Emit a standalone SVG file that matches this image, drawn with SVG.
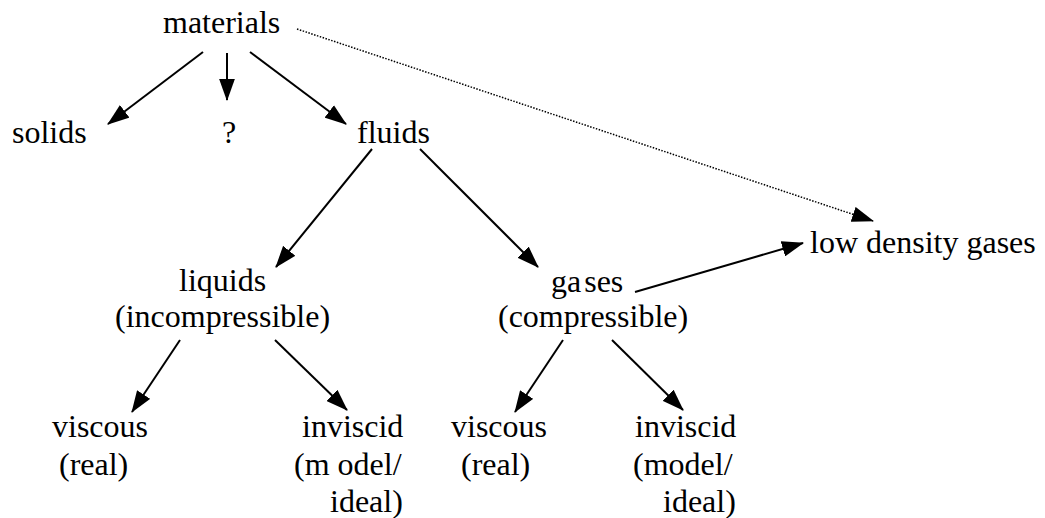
<svg xmlns="http://www.w3.org/2000/svg" width="1045" height="518" viewBox="0 0 1045 518">
<style>
.t text{font-family:'Liberation Serif','Times New Roman',Times,'DejaVu Serif',serif;font-size:32px;fill:#000}
.c{stroke:#000;stroke-width:2;fill:none}
.d{stroke:#000;stroke-width:1.5;fill:none;stroke-dasharray:1.5 1.5}
</style>
<defs>
<marker id="ah" markerUnits="userSpaceOnUse" markerWidth="22" markerHeight="16" refX="20" refY="7.5" orient="auto" viewBox="0 0 21 15">
<path d="M0,0 L21,7.5 L0,15 Z" fill="#000"/>
</marker>
</defs>
<rect width="1045" height="518" fill="#fff"/>
<g id="connectors">
<line class="c" x1="203" y1="52" x2="108" y2="124" marker-end="url(#ah)"/>
<line class="c" x1="227" y1="53" x2="227" y2="100" marker-end="url(#ah)"/>
<line class="c" x1="250" y1="52" x2="346" y2="124" marker-end="url(#ah)"/>
<line class="d" x1="297" y1="29" x2="873" y2="221" marker-end="url(#ah)"/>
<line class="c" x1="372" y1="149" x2="276" y2="267" marker-end="url(#ah)"/>
<line class="c" x1="420" y1="149" x2="538" y2="267" marker-end="url(#ah)"/>
<line class="c" x1="635" y1="292" x2="803" y2="243" marker-end="url(#ah)"/>
<line class="c" x1="180" y1="340" x2="132" y2="412" marker-end="url(#ah)"/>
<line class="c" x1="275" y1="340" x2="347" y2="410" marker-end="url(#ah)"/>
<line class="c" x1="563" y1="340" x2="515" y2="412" marker-end="url(#ah)"/>
<line class="c" x1="612" y1="340" x2="683" y2="410" marker-end="url(#ah)"/>
</g>
<g class="t" font-family="Liberation Serif, Times New Roman, serif" font-size="32">
<g id="materials"><text x="163" y="33">materials</text></g>
<g id="solids"><text x="12" y="143">solids</text></g>
<g id="unknown"><text x="222" y="143">?</text></g>
<g id="fluids"><text x="357" y="143">fluids</text></g>
<g id="low-density-gases"><text x="810" y="253">low density gases</text></g>
<g id="liquids"><text x="179" y="291">liquids</text><text x="115" y="327">(incompressible)</text></g>
<g id="gases"><text x="551" y="292" word-spacing="-5">ga ses</text><text x="498" y="327">(compressible)</text></g>
<g id="viscous-liquid"><text x="52" y="437">viscous</text><text x="59" y="475">(real)</text></g>
<g id="inviscid-liquid"><text x="302" y="437">inviscid</text><text x="294" y="475">(m odel/</text><text x="330" y="512">ideal)</text></g>
<g id="viscous-gas"><text x="451" y="437">viscous</text><text x="461" y="475">(real)</text></g>
<g id="inviscid-gas"><text x="635" y="437">inviscid</text><text x="633" y="475">(model/</text><text x="663" y="512">ideal)</text></g>
</g>
</svg>
